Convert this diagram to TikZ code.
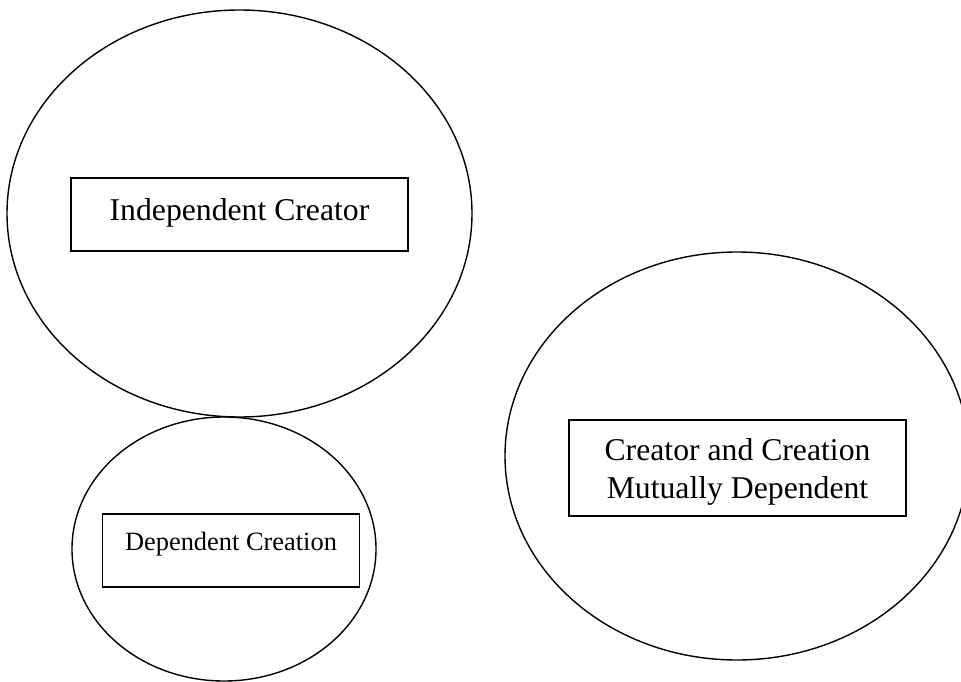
\documentclass[tikz,border=0pt]{standalone}
\usepackage{fontspec}
\setmainfont{Liberation Serif}
\usetikzlibrary{shapes.geometric}
\tikzset{
  bubble/.style={ellipse, draw, line width=1.4pt, inner sep=0pt},
  labelbox/.style={rectangle, draw, line width=1.2pt, inner sep=0pt},
  bigfont/.style={font=\fontsize{31.7}{38}\selectfont},
  smallfont/.style={font=\fontsize{26.4}{31}\selectfont}
}
\begin{document}
\begin{tikzpicture}[x=1pt,y=1pt]
\useasboundingbox (0,0) rectangle (961,-682);
\clip (0,0) rectangle (961,-682);
% ellipses
\node[bubble, minimum width=465pt, minimum height=407pt] (e1) at (239.5,-213.5) {};
\node[bubble, minimum width=304pt, minimum height=264pt] (e2) at (224,-549) {};
\node[bubble, minimum width=464pt, minimum height=408pt] (e3) at (737,-456) {};
% boxes
\node[labelbox, bigfont, minimum width=337pt, text height=42pt, text depth=31pt, anchor=base] (b1) at (239.5,-220) {Independent Creator};
\node[labelbox, smallfont, minimum width=256.6pt, text height=36pt, text depth=37pt, anchor=base] (b2) at (231,-550) {Dependent Creation};
\node[labelbox, minimum width=337pt, minimum height=96pt] (b3) at (737.5,-468) {};
\node[bigfont, align=center, inner sep=0pt] (t3) at ([yshift=-3.6pt]b3.center) {Creator and Creation\\Mutually Dependent};
\end{tikzpicture}
\end{document}
